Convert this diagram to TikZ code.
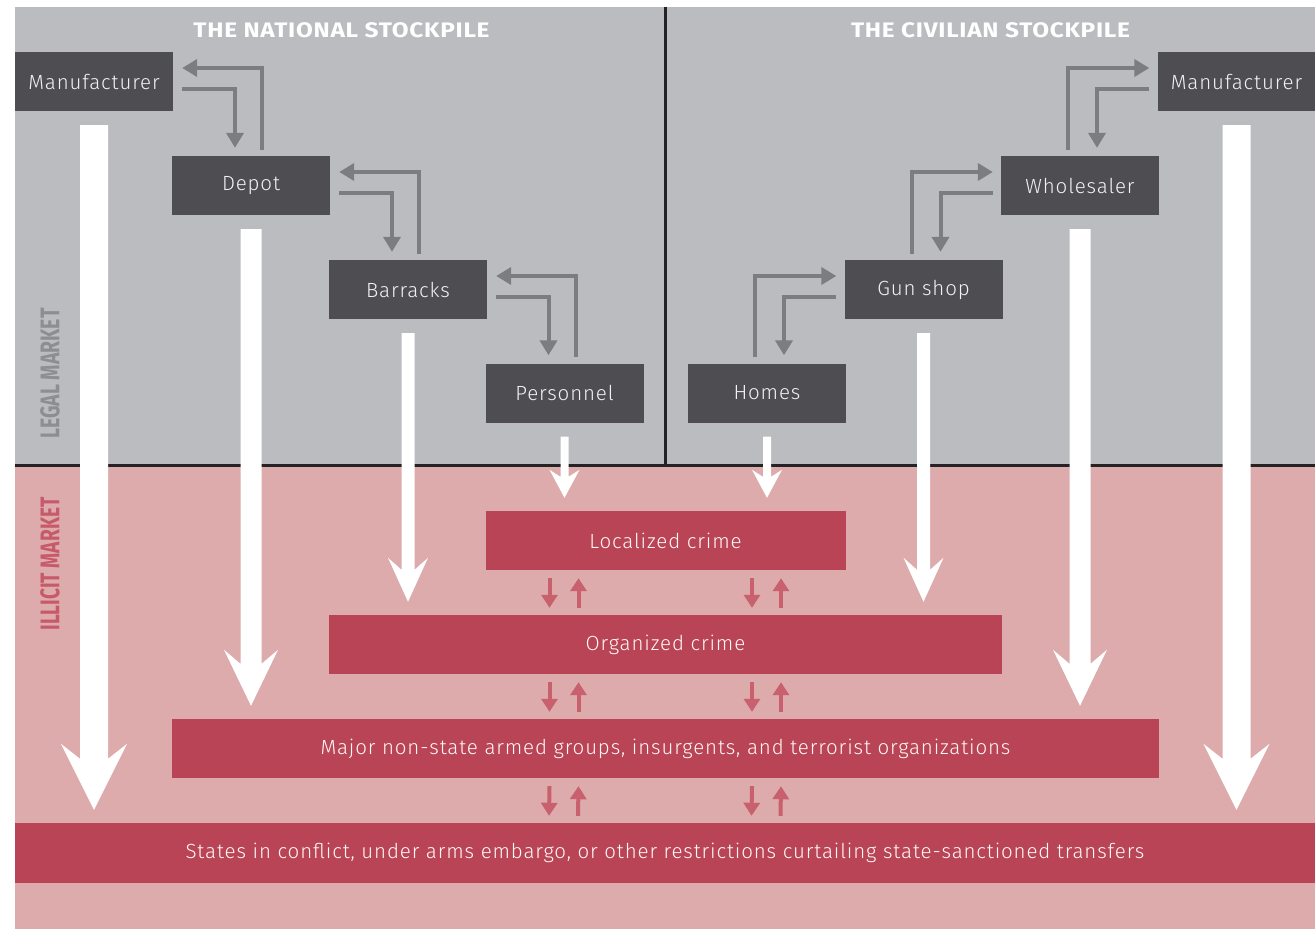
\documentclass[tikz,border=0pt]{standalone}
\usepackage{fontspec}
\setmainfont{Fira Sans}[UprightFont={* Light},BoldFont={* Bold}]
\usetikzlibrary{arrows.meta,calc}
\definecolor{graybg}{HTML}{BABCBF}
\definecolor{pinkbg}{HTML}{DDABAB}
\definecolor{darkbox}{HTML}{4E4E52}
\definecolor{redbox}{HTML}{B84456}
\definecolor{grayarrow}{HTML}{7B7D80}
\definecolor{redarrow}{HTML}{C9606E}
\definecolor{legalc}{HTML}{8C8E92}
\definecolor{illicitc}{HTML}{C65A6B}
\definecolor{divider}{HTML}{232325}
\newcommand\elbowL[2]{%
  \draw[garr] ([shift={(9,7.5)}]#1.east) -| ([shift={(-16,-8)}]#2.north);
  \draw[garr] ([shift={(11,-6)}]#2.north) |- ([shift={(9,-13.5)}]#1.east);}
\newcommand\elbowR[2]{%
  \draw[garr] ([shift={(-8,7.5)}]#1.west) -| ([shift={(17,-8)}]#2.north);
  \draw[garr] ([shift={(-12,-6)}]#2.north) |- ([shift={(-8,-13.5)}]#1.west);}
% #1 source node, #2 target node, #3 shaft half width, #4 head half width, #5 head length, #6 notch
\newcommand\bigarr[6]{%
  \fill[white] let \p1=(#1.south), \p2=(#2.north) in
    (\x1-#3,\y1-14) -- (\x1+#3,\y1-14) -- (\x1+#3,\y2+13+#5-#6) -- (\x1+#4,\y2+13+#5)
    -- (\x1,\y2+13) -- (\x1-#4,\y2+13+#5) -- (\x1-#3,\y2+13+#5-#6) -- cycle;}
\newcommand\redpair[3]{% #1 upper node, #2 lower node, #3 offset
  \draw[rarr] ([shift={(#3,8)}]#1.south) -- ([shift={(#3,-7)}]#2.north);
  \draw[rarr] ([shift={(#3+29,-7)}]#2.north) -- ([shift={(#3+29,8)}]#1.south);}
\newcommand\boxfont{\fontsize{20.5}{24}\selectfont\addfontfeatures{LetterSpace=4.2}}
\begin{document}
\begin{tikzpicture}[x=1pt,y=-1pt,
  box/.style={draw=none,fill=darkbox,minimum width=158pt,minimum height=59pt,inner sep=0pt,
    text=white!90!gray,font=\boxfont},
  redb/.style={draw=none,fill=redbox,minimum height=59pt,inner sep=0pt,
    text=white!88!pink,font=\boxfont},
  hdr/.style={text=white,font=\bfseries\fontsize{21}{24}\selectfont\addfontfeatures{LetterSpace=3}},
  side/.style={rotate=90,font=\bfseries\fontsize{27}{30}\selectfont},
  garr/.style={draw=grayarrow,line width=4pt,-{Triangle[width=17pt,length=15pt]}},
  rarr/.style={draw=redarrow,line width=4pt,-{Triangle[width=16pt,length=13pt]}}]
\useasboundingbox (0,0) rectangle (1315,929);
\fill[white] (0,0) rectangle (1315,929);
\fill[graybg] (15,7) rectangle (1315,465);
\fill[pinkbg] (15,465) rectangle (1315,929);
\draw[divider,line width=3pt] (15,465) -- (1315,465);
\draw[divider,line width=3pt] (665,7) -- (665,465);

\node[hdr] (hN) at (341.5,30) {\scalebox{1.16}[1]{THE NATIONAL STOCKPILE}};
\node[hdr] (hC) at (990.5,30) {\scalebox{1.16}[1]{THE CIVILIAN STOCKPILE}};
\node[side,text=legalc] (lg) at (50,373.5) {\scalebox{0.72}[1]{LEGAL MARKET}};
\node[side,text=illicitc] (il) at (50,564) {\scalebox{0.71}[1]{ILLICIT MARKET}};

\node[box] (mL) at (94,81.5) {Manufacturer};
\node[box] (depot) at (251,185.5) {Depot};
\node[box] (barracks) at (408,289.5) {Barracks};
\node[box] (personnel) at (564.5,393) {Personnel};
\node[box] (homes) at (767,393) {Homes};
\node[box] (gunshop) at (923.5,289.5) {Gun shop};
\node[box] (wholesaler) at (1080,185.5) {Wholesaler};
\node[box] (mR) at (1236.5,81.5) {Manufacturer};

\node[redb,minimum width=360pt] (loc) at (665.5,540.5) {Localized crime};
\node[redb,minimum width=673pt] (org) at (665.5,644.5) {Organized crime};
\node[redb,minimum width=987pt] (major) at (665.5,748.5) {Major non-state armed groups, insurgents, and terrorist organizations};
\node[redb,minimum width=1300pt,minimum height=60pt] (states) at (665,853) {States in conflict, under arms embargo, or other restrictions curtailing state-sanctioned transfers};

\elbowL{mL}{depot}
\elbowL{depot}{barracks}
\elbowL{barracks}{personnel}
\elbowR{mR}{wholesaler}
\elbowR{wholesaler}{gunshop}
\elbowR{gunshop}{homes}

\bigarr{mL}{states}{14}{33}{66}{15}
\bigarr{depot}{major}{10.5}{27}{56}{14}
\bigarr{barracks}{org}{6.5}{20}{44}{12}
\bigarr{personnel}{loc}{4}{15}{28}{7}
\bigarr{homes}{loc}{4}{15}{28}{7}
\bigarr{gunshop}{org}{6.5}{20}{44}{12}
\bigarr{wholesaler}{major}{10.5}{27}{56}{14}
\bigarr{mR}{states}{14}{33}{66}{15}

\redpair{loc}{org}{-116}
\redpair{loc}{org}{86.5}
\redpair{org}{major}{-116}
\redpair{org}{major}{86.5}
\redpair{major}{states}{-116}
\redpair{major}{states}{86.5}
\end{tikzpicture}
\end{document}
